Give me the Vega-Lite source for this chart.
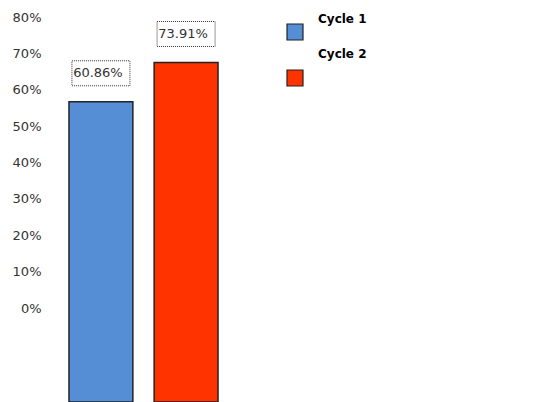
{
  "$schema": "https://vega.github.io/schema/vega-lite/v6.json",
  "autosize": {"type": "none"},
  "padding": {"left": 46, "top": 17, "right": 318, "bottom": 0},
  "width": 195,
  "height": 385,
  "background": "white",
  "config": {"view": {"stroke": null}, "font": "DejaVu Sans"},
  "data": {
    "values": [
      {"cycle": "Cycle 1", "value": 0.567, "label": "60.86%"},
      {"cycle": "Cycle 2", "value": 0.675, "label": "73.91%"}
    ]
  },
  "encoding": {
    "x": {"field": "cycle", "type": "nominal", "axis": null, "sort": null,
          "scale": {"paddingInner": 0.25, "paddingOuter": 0.27}}
  },
  "layer": [
    {
      "mark": {"type": "bar", "stroke": "#222222", "strokeWidth": 1.5},
      "encoding": {
        "y": {"field": "value", "type": "quantitative",
              "scale": {"domain": [-0.258, 0.8], "zero": false, "nice": false},
              "axis": {"values": [0, 0.1, 0.2, 0.3, 0.4, 0.5, 0.6, 0.7, 0.8], "format": ".0%",
                       "title": null, "domain": false, "ticks": false, "grid": false,
                       "labelPadding": 5, "labelFontSize": 13, "labelColor": "#333333",
                       "labelFont": "DejaVu Sans", "labelFlush": false, "labelOverlap": false,
                       "labelBaseline": "middle"}},
        "y2": {"datum": -0.258},
        "color": {"field": "cycle", "type": "nominal",
                  "scale": {"domain": ["Cycle 1", "Cycle 2"], "range": ["#558ED5", "#FF3300"]},
                  "legend": {"orient": "none", "legendX": 240, "legendY": 6, "title": null,
                             "padding": 0, "rowPadding": 5, "symbolType": "square", "symbolSize": 256,
                             "symbolStrokeColor": "#222222", "symbolStrokeWidth": 1.2,
                             "labelOffset": 14, "labelFontSize": 12, "labelFontWeight": "bold",
                             "labelFont": "DejaVu Sans", "labelColor": "#000000",
                             "encode": {"labels": {"update": {"dy": {"signal": "datum.index == 0 ? -13 : -24"}}}}}}
      }
    },
    {
      "mark": {"type": "rect", "fill": "white", "stroke": "#333333", "strokeWidth": 1, "strokeDash": [1, 1],
               "width": 58, "yOffset": -41, "y2Offset": -16},
      "encoding": {
        "y": {"field": "value", "type": "quantitative"},
        "y2": {"field": "value"}
      }
    },
    {
      "mark": {"type": "text", "baseline": "middle", "align": "center", "dx": -3, "yOffset": -28.5,
               "fontSize": 13, "font": "DejaVu Sans", "color": "#333333"},
      "encoding": {
        "y": {"field": "value", "type": "quantitative"},
        "text": {"field": "label"}
      }
    }
  ]
}
